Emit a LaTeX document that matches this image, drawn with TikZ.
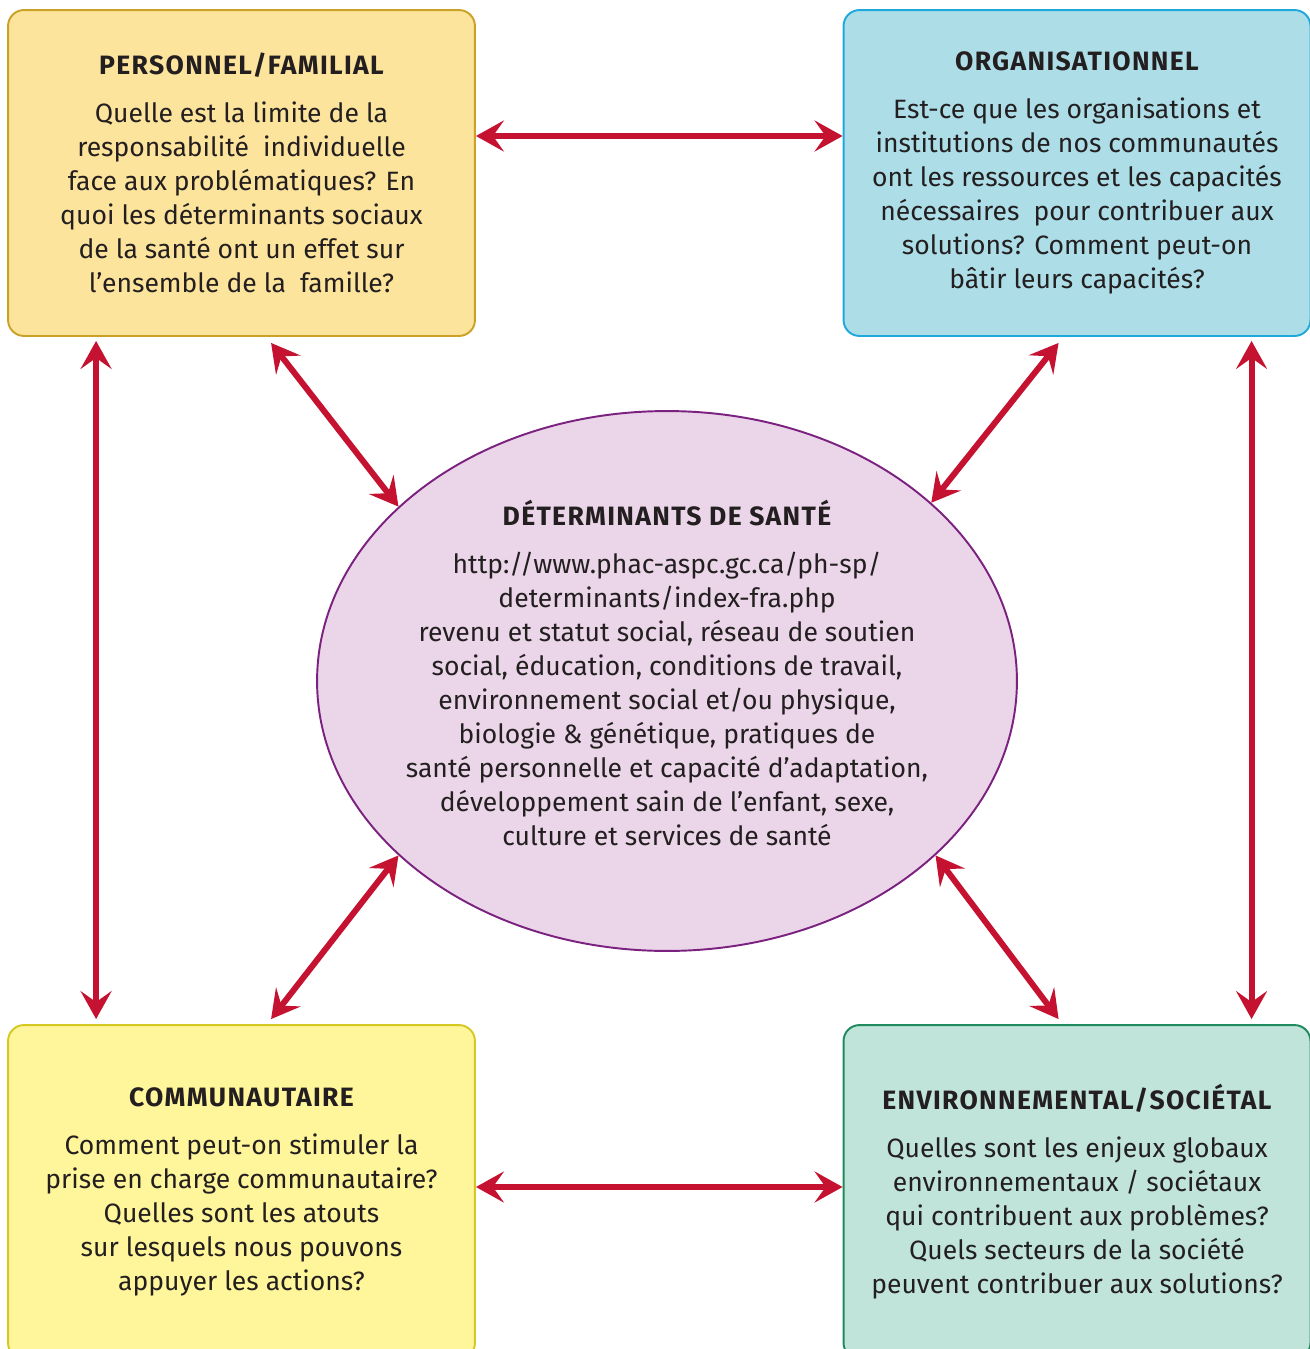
\documentclass[tikz,border=0pt]{standalone}
\usepackage{fontspec}
\setmainfont{Fira Sans}
\usetikzlibrary{calc, arrows.meta, shapes.geometric}
\definecolor{txt}{HTML}{231F20}
\definecolor{arrowred}{HTML}{C41230}
\definecolor{persfill}{HTML}{FDE49C}
\definecolor{persline}{HTML}{C9A227}
\definecolor{orgfill}{HTML}{ADDEE8}
\definecolor{orgline}{HTML}{1FA8DC}
\definecolor{comfill}{HTML}{FFF59A}
\definecolor{comline}{HTML}{D6C822}
\definecolor{envfill}{HTML}{C0E4DA}
\definecolor{envline}{HTML}{1E8A5E}
\definecolor{detfill}{HTML}{EBD5E8}
\definecolor{detline}{HTML}{7B2180}
\newcommand{\boxtitle}[1]{{\bfseries\addfontfeature{LetterSpace=5.0}#1}}
\tikzstyle{txtfont}=[font=\fontsize{15.1}{19.35}\selectfont, text=txt, align=center]
\tikzstyle{box}=[draw, line width=1.1pt, rounded corners=0.32cm, minimum width=9.34cm, minimum height=6.52cm, txtfont]
\tikzstyle{link}=[{Stealth[length=5.6mm,width=6.2mm,inset=2.2mm]}-{Stealth[length=5.6mm,width=6.2mm,inset=2.2mm]}, line width=0.12cm, draw=arrowred]

\begin{document}
\begin{tikzpicture}[x=0.02cm,y=-0.02cm]
  \useasboundingbox (0,0) rectangle (1310,1349);
  \node [box, fill=persfill, draw=persline] (pf) at (241.5,173)
    {\boxtitle{PERSONNEL/FAMILIAL}\\[0.28cm]
     Quelle est la limite de la\\
     responsabilité\ \ individuelle\\
     face aux problématiques? En\\
     quoi les déterminants sociaux\\
     de la santé ont un effet sur\\
     l’ensemble de la\ \ famille?};
  \node [box, fill=orgfill, draw=orgline] (org) at (1077,173)
    {\boxtitle{ORGANISATIONNEL}\\[0.28cm]
     Est-ce que les organisations et\\
     institutions de nos communautés\\
     ont les ressources et les capacités\\
     nécessaires\ \ pour contribuer aux\\
     solutions? Comment peut-on\\
     bâtir leurs capacités?};
  \node [box, fill=comfill, draw=comline, minimum height=6.68cm] (com) at (241.5,1192)
    {\boxtitle{COMMUNAUTAIRE}\\[0.28cm]
     Comment peut-on stimuler la\\
     prise en charge communautaire?\\
     Quelles sont les atouts\\
     sur lesquels nous pouvons\\
     appuyer les actions?};
  \node [box, fill=envfill, draw=envline, minimum height=6.68cm] (env) at (1077,1192)
    {\boxtitle{ENVIRONNEMENTAL/SOCIÉTAL}\\[0.28cm]
     Quelles sont les enjeux globaux\\
     environnementaux / sociétaux\\
     qui contribuent aux problèmes?\\
     Quels secteurs de la société\\
     peuvent contribuer aux solutions?};
  \node [ellipse, draw=detline, fill=detfill, line width=1.1pt, inner sep=0pt,
         minimum width=14cm, minimum height=10.8cm] (det) at (667,681) {};
  \node [txtfont] (dettext) at (667,673)
    {\boxtitle{DÉTERMINANTS DE SANTÉ}\\[0.28cm]
     http://www.phac-aspc.gc.ca/ph-sp/\\
     determinants/index-fra.php\\
     revenu et statut social, réseau de soutien\\
     social, éducation, conditions de travail,\\
     environnement social et/ou physique,\\
     biologie \& génétique, pratiques de\\
     santé personnelle et capacité d’adaptation,\\
     développement sain de l’enfant, sexe,\\
     culture et services de santé};
  \draw [link] ($(pf.east)+(0,-37)$) -- ($(org.west)+(0,-37)$);
  \draw [link] ($(com.east)+(0,-5)$) -- ($(env.west)+(0,-5)$);
  \draw [link] ($(pf.south west)+(89,4)$) -- ($(com.north west)+(89,-5)$);
  \draw [link] ($(org.south west)+(409,4)$) -- ($(env.north west)+(409,-5)$);
  \draw [link] ($(pf.south west)+(264,6)$) -- (det.147);
  \draw [link] ($(org.south west)+(216,6)$) -- (det.34);
  \draw [link] (det.213) -- ($(com.north west)+(264,-5)$);
  \draw [link] (det.327) -- ($(env.north west)+(216,-5)$);
\end{tikzpicture}
\end{document}
